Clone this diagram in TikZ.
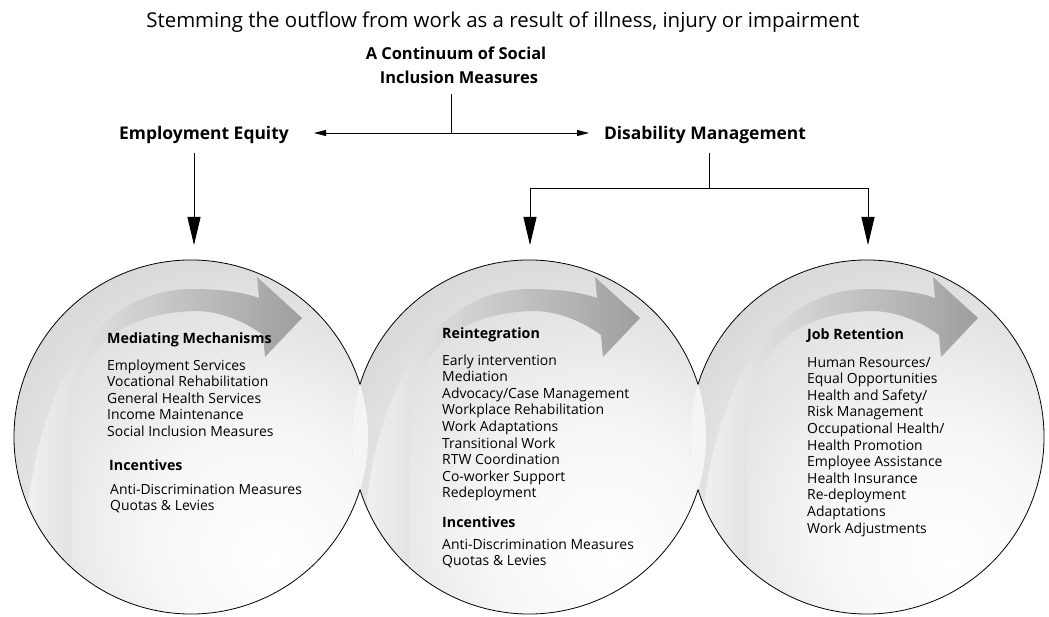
\documentclass[tikz,border=0pt]{standalone}
\usepackage{fontspec}
\setmainfont{Open Sans}
\usetikzlibrary{arrows.meta}
\pgfdeclareradialshading{glassball}{\pgfpoint{12bp}{-18bp}}{color(0bp)=(white); color(15bp)=(white!97!black); color(35bp)=(white!86!black); color(55bp)=(white!74!black); color(78bp)=(white!68!black)}
\tikzset{
  ttl/.style={font=\fontsize{20.5}{24}\selectfont, inner sep=0pt, anchor=base},
  lab/.style={font=\bfseries\fontsize{17.5}{20}\selectfont, inner sep=0pt, anchor=base},
  contlab/.style={font=\bfseries\fontsize{16.5}{20}\selectfont, inner sep=0pt, anchor=base},
  head/.style={font=\bfseries\fontsize{14.3}{17}\selectfont, inner sep=0pt, anchor=base west},
  item/.style={font=\fontsize{14}{17}\selectfont, inner sep=0pt, anchor=base west},
  conn/.style={line width=0.8bp, black},
  bigarrow/.style={conn, -{Triangle[length=28bp,width=13bp]}},
  smallarrow/.style={conn, -{Triangle[length=12bp,width=6bp]}},
  rim/.style={line width=0.8bp, black},
  band/.style={left color=white!96!black, right color=black!38}
}
\begin{document}
\begin{tikzpicture}[x=1bp,y=-1bp]
\useasboundingbox (0,0) rectangle (1049,617);
% circles
\coordinate (c1) at (191,437);
\coordinate (c2) at (529,437);
\coordinate (c3) at (867,437);
\foreach \c in {c1,c2,c3} \shade[shading=glassball] (\c) circle[radius=177];
% lenses
\begin{scope}
  \clip (c1) circle[radius=177];
  \fill[white, opacity=0.7] (c2) circle[radius=177];
\end{scope}
\begin{scope}
  \clip (c2) circle[radius=177];
  \fill[white, opacity=0.7] (c3) circle[radius=177];
\end{scope}
% curved bands
\foreach \s in {0,338,676}{
  \begin{scope}[shift={(\s,0)}]
    \clip (191,437) circle[radius=176];
    \shade[band] (25,640) .. controls (12,420) and (80,291) .. (190,289)
      .. controls (225,289) and (245,293) .. (259,298)
      -- (257,277) -- (302,318) -- (265,357) -- (263,335)
      .. controls (240,318) and (215,311) .. (195,311)
      .. controls (120,313) and (72,350) .. (71,430) -- (72,640) -- cycle;
  \end{scope}
}
% rims
\draw[rim] (c1) ++(17.3:177) arc[start angle=17.3, end angle=342.7, radius=177];
\draw[rim] (c2) ++(17.3:177) arc[start angle=17.3, end angle=162.7, radius=177];
\draw[rim] (c2) ++(197.3:177) arc[start angle=197.3, end angle=342.7, radius=177];
\draw[rim] (c3) ++(-162.7:177) arc[start angle=-162.7, end angle=162.7, radius=177];

% top texts
\node[ttl] (title) at (503,28) {Stemming the outflow from work as a result of illness, injury or impairment};
\node[contlab] (cont1) at (456,60) {A Continuum of Social};
\node[contlab] (cont2) at (459,83.5) {Inclusion Measures};
\node[lab] (ee) at (204,139.5) {Employment Equity};
\node[lab] (dm) at (705,139.5) {Disability Management};

% connectors
\coordinate (stem) at (451,94);
\coordinate (j) at (451,133);
\coordinate (eetip) at (314,133);
\coordinate (dmtip) at (589,133);
\draw[conn] (stem) -- (j);
\draw[smallarrow] (j) -- (eetip);
\draw[smallarrow] (j) -- (dmtip);
\coordinate (ees) at (194,153);
\coordinate (eet) at (194,245);
\draw[bigarrow] (ees) -- (eet);
\coordinate (dms) at (709,153);
\coordinate (dmj) at (709,188);
\coordinate (bl) at (530,188);
\coordinate (br) at (868,188);
\coordinate (blt) at (530,245);
\coordinate (brt) at (868,245);
\draw[conn] (dms) -- (dmj);
\draw[conn] (bl) -- (br);
\draw[bigarrow] (bl) -- (blt);
\draw[bigarrow] (br) -- (brt);

% circle 1 text
\node[head] (h1) at (107,343) {Mediating Mechanisms};
\foreach \t [count=\i] in {Employment Services,Vocational Rehabilitation,General Health Services,Income Maintenance,Social Inclusion Measures}
  \node[item] (a\i) at (107,{370+(\i-1)*16.6}) {\t};
\node[head] (h1b) at (109,470) {Incentives};
\foreach \t [count=\i] in {Anti-Discrimination Measures,Quotas \& Levies}
  \node[item] (b\i) at (110,{494+(\i-1)*16.6}) {\t};

% circle 2 text
\node[head] (h2) at (442,338) {Reintegration};
\foreach \t [count=\i] in {Early intervention,Mediation,Advocacy/Case Management,Workplace Rehabilitation,Work Adaptations,Transitional Work,RTW Coordination,Co-worker Support,Redeployment}
  \node[item] (c\i) at (442,{365+(\i-1)*16.6}) {\t};
\node[head] (h2b) at (442,527) {Incentives};
\foreach \t [count=\i] in {Anti-Discrimination Measures,Quotas \& Levies}
  \node[item] (d\i) at (442,{549+(\i-1)*16.6}) {\t};

% circle 3 text
\node[head] (h3) at (807,339) {Job Retention};
\foreach \t [count=\i] in {Human Resources/,Equal Opportunities,Health and Safety/,Risk Management,Occupational Health/,Health Promotion,Employee Assistance,Health Insurance,Re-deployment,Adaptations,Work Adjustments}
  \node[item] (e\i) at (807,{367+(\i-1)*16.6}) {\t};
\end{tikzpicture}
\end{document}
